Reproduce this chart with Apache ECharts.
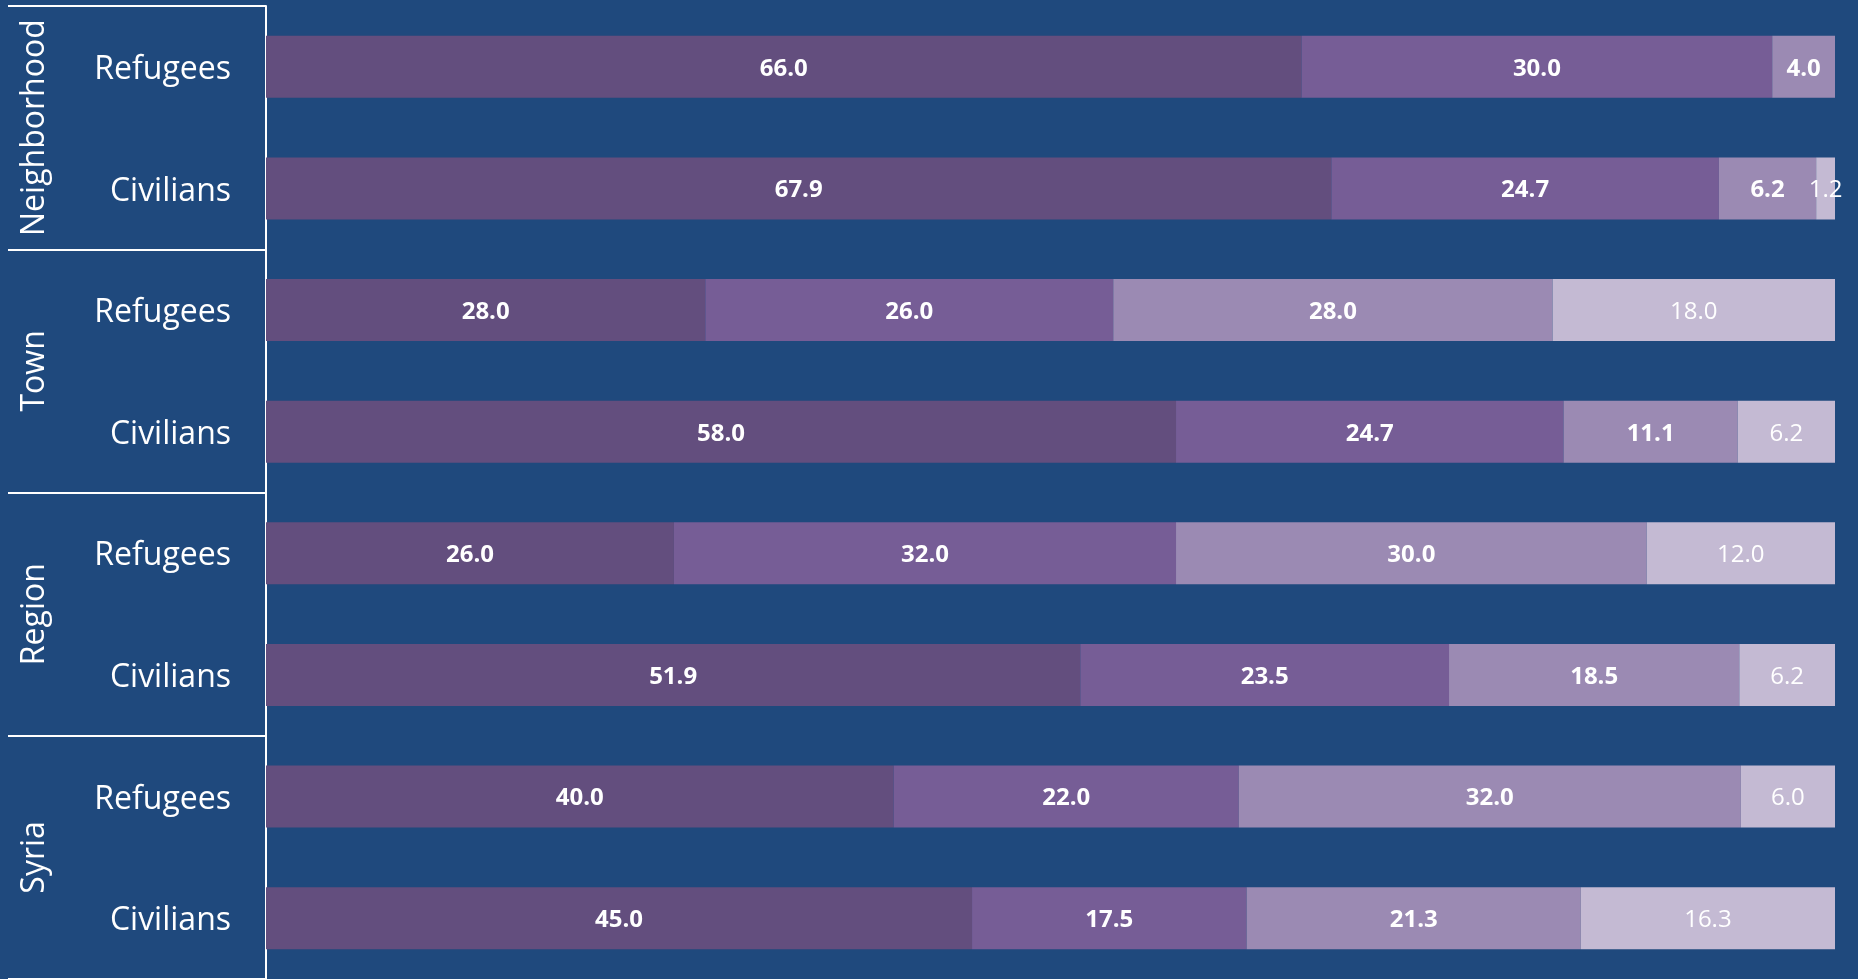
<!DOCTYPE html>
<html>
<head>
<meta charset="utf-8">
<style>
  html, body { margin: 0; padding: 0; background: #1F497D; }
  #chart { width: 1858px; height: 979px; }
</style>
<script src="https://cdn.jsdelivr.net/npm/echarts@6/dist/echarts.min.js"></script>
</head>
<body>
<div id="chart"></div>
<script>
// Respondent groups, top to bottom
const groups = ['Neighborhood', 'Town', 'Region', 'Syria'];
const rows = ['Refugees', 'Civilians', 'Refugees', 'Civilians', 'Refugees', 'Civilians', 'Refugees', 'Civilians'];

// Share of answers (%) per row, one array per response level
const level1 = [66.0, 67.9, 28.0, 58.0, 26.0, 51.9, 40.0, 45.0];
const level2 = [30.0, 24.7, 26.0, 24.7, 32.0, 23.5, 22.0, 17.5];
const level3 = [4.0, 6.2, 28.0, 11.1, 30.0, 18.5, 32.0, 21.3];
const level4 = [null, 1.2, 18.0, 6.2, 12.0, 6.2, 6.0, 16.3];

const colors = ['#634E7E', '#765D96', '#9B8AB3', '#C4BAD3'];
const FONT = '"Open Sans", "Noto Sans", sans-serif';

function seg(name, data, color, bold) {
  return {
    name: name,
    type: 'bar',
    stack: 'total',
    data: data,
    barWidth: '51%',
    itemStyle: { color: color },
    label: {
      show: true,
      position: 'inside',
      offset: [0, 2],
      color: '#FFFFFF',
      fontFamily: FONT,
      fontSize: 24,
      fontWeight: bold ? 'bold' : 'normal',
      formatter: p => (p.value == null ? '' : Number(p.value).toFixed(1))
    },
    emphasis: { disabled: true }
  };
}

const chart = echarts.init(document.getElementById('chart'), null, { renderer: 'canvas' });
chart.setOption({
  backgroundColor: '#1F497D',
  animation: false,
  grid: { left: 266, right: 23, top: 6, height: 976, containLabel: false },
  xAxis: {
    type: 'value',
    min: 0,
    max: 100,
    show: false
  },
  yAxis: [
    {
      type: 'category',
      data: rows,
      inverse: true,
      position: 'left',
      axisLine: { show: false },
      axisTick: { show: false },
      axisLabel: {
        interval: 0,
        color: '#FFFFFF',
        fontFamily: FONT,
        fontSize: 32,
        margin: 35,
        verticalAlign: 'top',
        lineHeight: 40,
        padding: [-17, 0, 0, 0]
      }
    },
    {
      type: 'category',
      data: groups,
      inverse: true,
      position: 'left',
      axisLine: { show: true, lineStyle: { color: '#FFFFFF', width: 2 } },
      axisTick: { show: true, interval: 0, length: 258, lineStyle: { color: '#FFFFFF', width: 2 } },
      axisLabel: {
        interval: 0,
        color: '#FFFFFF',
        fontFamily: FONT,
        fontSize: 32,
        rotate: 90,
        margin: 215
      }
    }
  ],
  series: [
    seg('1', level1, colors[0], true),
    seg('2', level2, colors[1], true),
    seg('3', level3, colors[2], true),
    seg('4', level4, colors[3], false)
  ]
});
</script>
</body>
</html>
